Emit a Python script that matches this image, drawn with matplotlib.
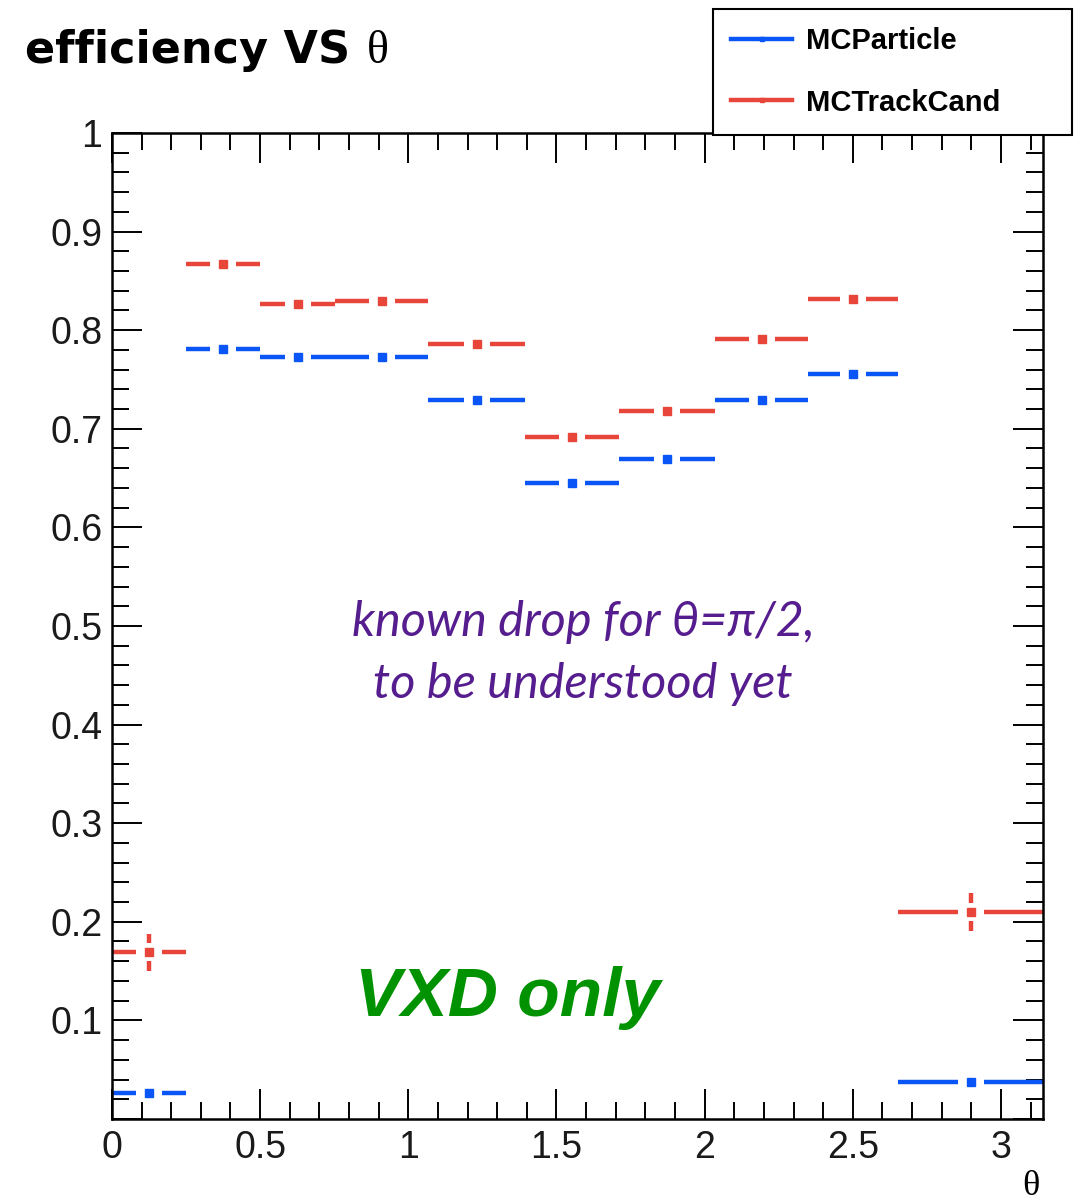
import numpy as np
import matplotlib

matplotlib.use("Agg")
import matplotlib.pyplot as plt
from matplotlib.lines import Line2D
from matplotlib.ticker import FuncFormatter, MultipleLocator

# theta binning (variable width, last bin ends at pi)
BIN_EDGES = [0.0, 0.25, 0.50, 0.754, 1.068, 1.393, 1.711, 2.035, 2.350, 2.654, np.pi]

EFF_PARTICLE = [0.026, 0.781, 0.773, 0.773, 0.729, 0.645, 0.669, 0.729, 0.756, 0.037]
ERR_PARTICLE = [0.006, 0.006, 0.005, 0.005, 0.005, 0.005, 0.005, 0.005, 0.006, 0.006]

EFF_TRACKCAND = [0.169, 0.867, 0.827, 0.830, 0.786, 0.692, 0.718, 0.791, 0.832, 0.210]
ERR_TRACKCAND = [0.019, 0.006, 0.005, 0.005, 0.005, 0.005, 0.005, 0.005, 0.006, 0.019]

LABELS = ["MCParticle", "MCTrackCand"]
BLUE = "#0a55f5"
RED = "#e8463a"

SANS = "Liberation Sans"
SERIF = "Liberation Serif"


def draw_hist_points(ax, edges, values, errors, color, gap_x, gap_y):
    edges = np.asarray(edges)
    values = np.asarray(values)
    errors = np.asarray(errors)
    centers = 0.5 * (edges[:-1] + edges[1:])
    lw = 3.2

    # horizontal bin extent, broken around the marker
    ax.hlines(values, edges[:-1], centers - gap_x, color=color, lw=lw, capstyle="butt")
    ax.hlines(values, centers + gap_x, edges[1:], color=color, lw=lw, capstyle="butt")

    # vertical error bars, only where they reach past the marker gap
    big = errors > gap_y
    ax.vlines(centers[big], values[big] + gap_y, values[big] + errors[big],
              color=color, lw=lw, capstyle="butt")
    ax.vlines(centers[big], values[big] - errors[big], values[big] - gap_y,
              color=color, lw=lw, capstyle="butt")

    ax.plot(centers, values, "s", ms=5.8, color=color, mec=color, clip_on=False)


def main() -> None:
    fig = plt.figure(figsize=(10.88, 12.01), dpi=100)
    ax = fig.add_axes([0.1029, 0.0683, 0.8557, 0.8210])

    ax.set_xlim(0, np.pi)
    ax.set_ylim(0, 1)

    gap_x = 13 / 296.0
    gap_y = 9 / 986.0
    draw_hist_points(ax, BIN_EDGES, EFF_PARTICLE, ERR_PARTICLE, BLUE, gap_x, gap_y)
    draw_hist_points(ax, BIN_EDGES, EFF_TRACKCAND, ERR_TRACKCAND, RED, gap_x, gap_y)

    # ROOT-like frame and ticks
    for spine in ax.spines.values():
        spine.set_linewidth(1.8)
    ax.xaxis.set_major_locator(MultipleLocator(0.5))
    ax.xaxis.set_minor_locator(MultipleLocator(0.1))
    ax.yaxis.set_major_locator(MultipleLocator(0.1))
    ax.yaxis.set_minor_locator(MultipleLocator(0.02))
    ax.tick_params(which="both", direction="in", top=True, right=True, width=1.4)
    ax.tick_params(which="major", length=21.5)
    ax.tick_params(which="minor", length=12.5)
    ax.tick_params(axis="x", which="major", pad=8)
    ax.tick_params(axis="y", which="major", pad=7)
    ax.xaxis.set_major_formatter(FuncFormatter(lambda v, _: f"{v:g}"))
    ax.yaxis.set_major_formatter(FuncFormatter(lambda v, _: "" if v < 0.05 else f"{v:g}"))
    for lab in ax.get_xticklabels() + ax.get_yticklabels():
        lab.set_fontfamily(SANS)
        lab.set_fontsize(27)
        lab.set_color("#1a1a1a")

    # title and axis label
    fig.text(25 / 1088, 1 - 63 / 1201, "efficiency VS", fontsize=32, fontweight="bold",
             family="DejaVu Sans", va="baseline", ha="left")
    fig.text(367 / 1088, 1 - 63 / 1201, "θ", fontsize=33, family=SERIF,
             va="baseline", ha="left")
    fig.text(1031 / 1088, 1 - 1170 / 1201, "θ", fontsize=26, family=SERIF,
             va="top", ha="center")

    # notes inside the frame
    ax.text(0.506, 0.473, "known drop for θ=π/2,\nto be understood yet",
            transform=ax.transAxes, ha="center", va="center", fontsize=35,
            family="Lato", style="italic", color="#561d8f", linespacing=1.5)
    ax.text(0.4253, 0.1045, "VXD only", transform=ax.transAxes, ha="center",
            va="baseline", fontsize=50, family=SANS, fontweight="bold",
            style="italic", color="#009200")

    # legend box
    handles = [
        Line2D([], [], color=BLUE, lw=3.2, marker="s", ms=3.5),
        Line2D([], [], color=RED, lw=3.2, marker="s", ms=3.5),
    ]
    leg = fig.legend(
        handles, LABELS,
        loc="upper left",
        bbox_to_anchor=(713 / 1088, 1 - 131 / 1201, 359 / 1088, 122 / 1201),
        mode="expand",
        borderaxespad=0,
        borderpad=0.62,
        handlelength=2.1,
        handletextpad=0.48,
        labelspacing=1.15,
        fancybox=False,
        framealpha=1,
        edgecolor="black",
        prop={"family": SANS, "weight": "bold", "size": 21},
    )
    leg.get_frame().set_linewidth(1.5)

    fig.savefig("out.png", dpi=100, facecolor="white")
    plt.close(fig)


if __name__ == "__main__":
    main()
